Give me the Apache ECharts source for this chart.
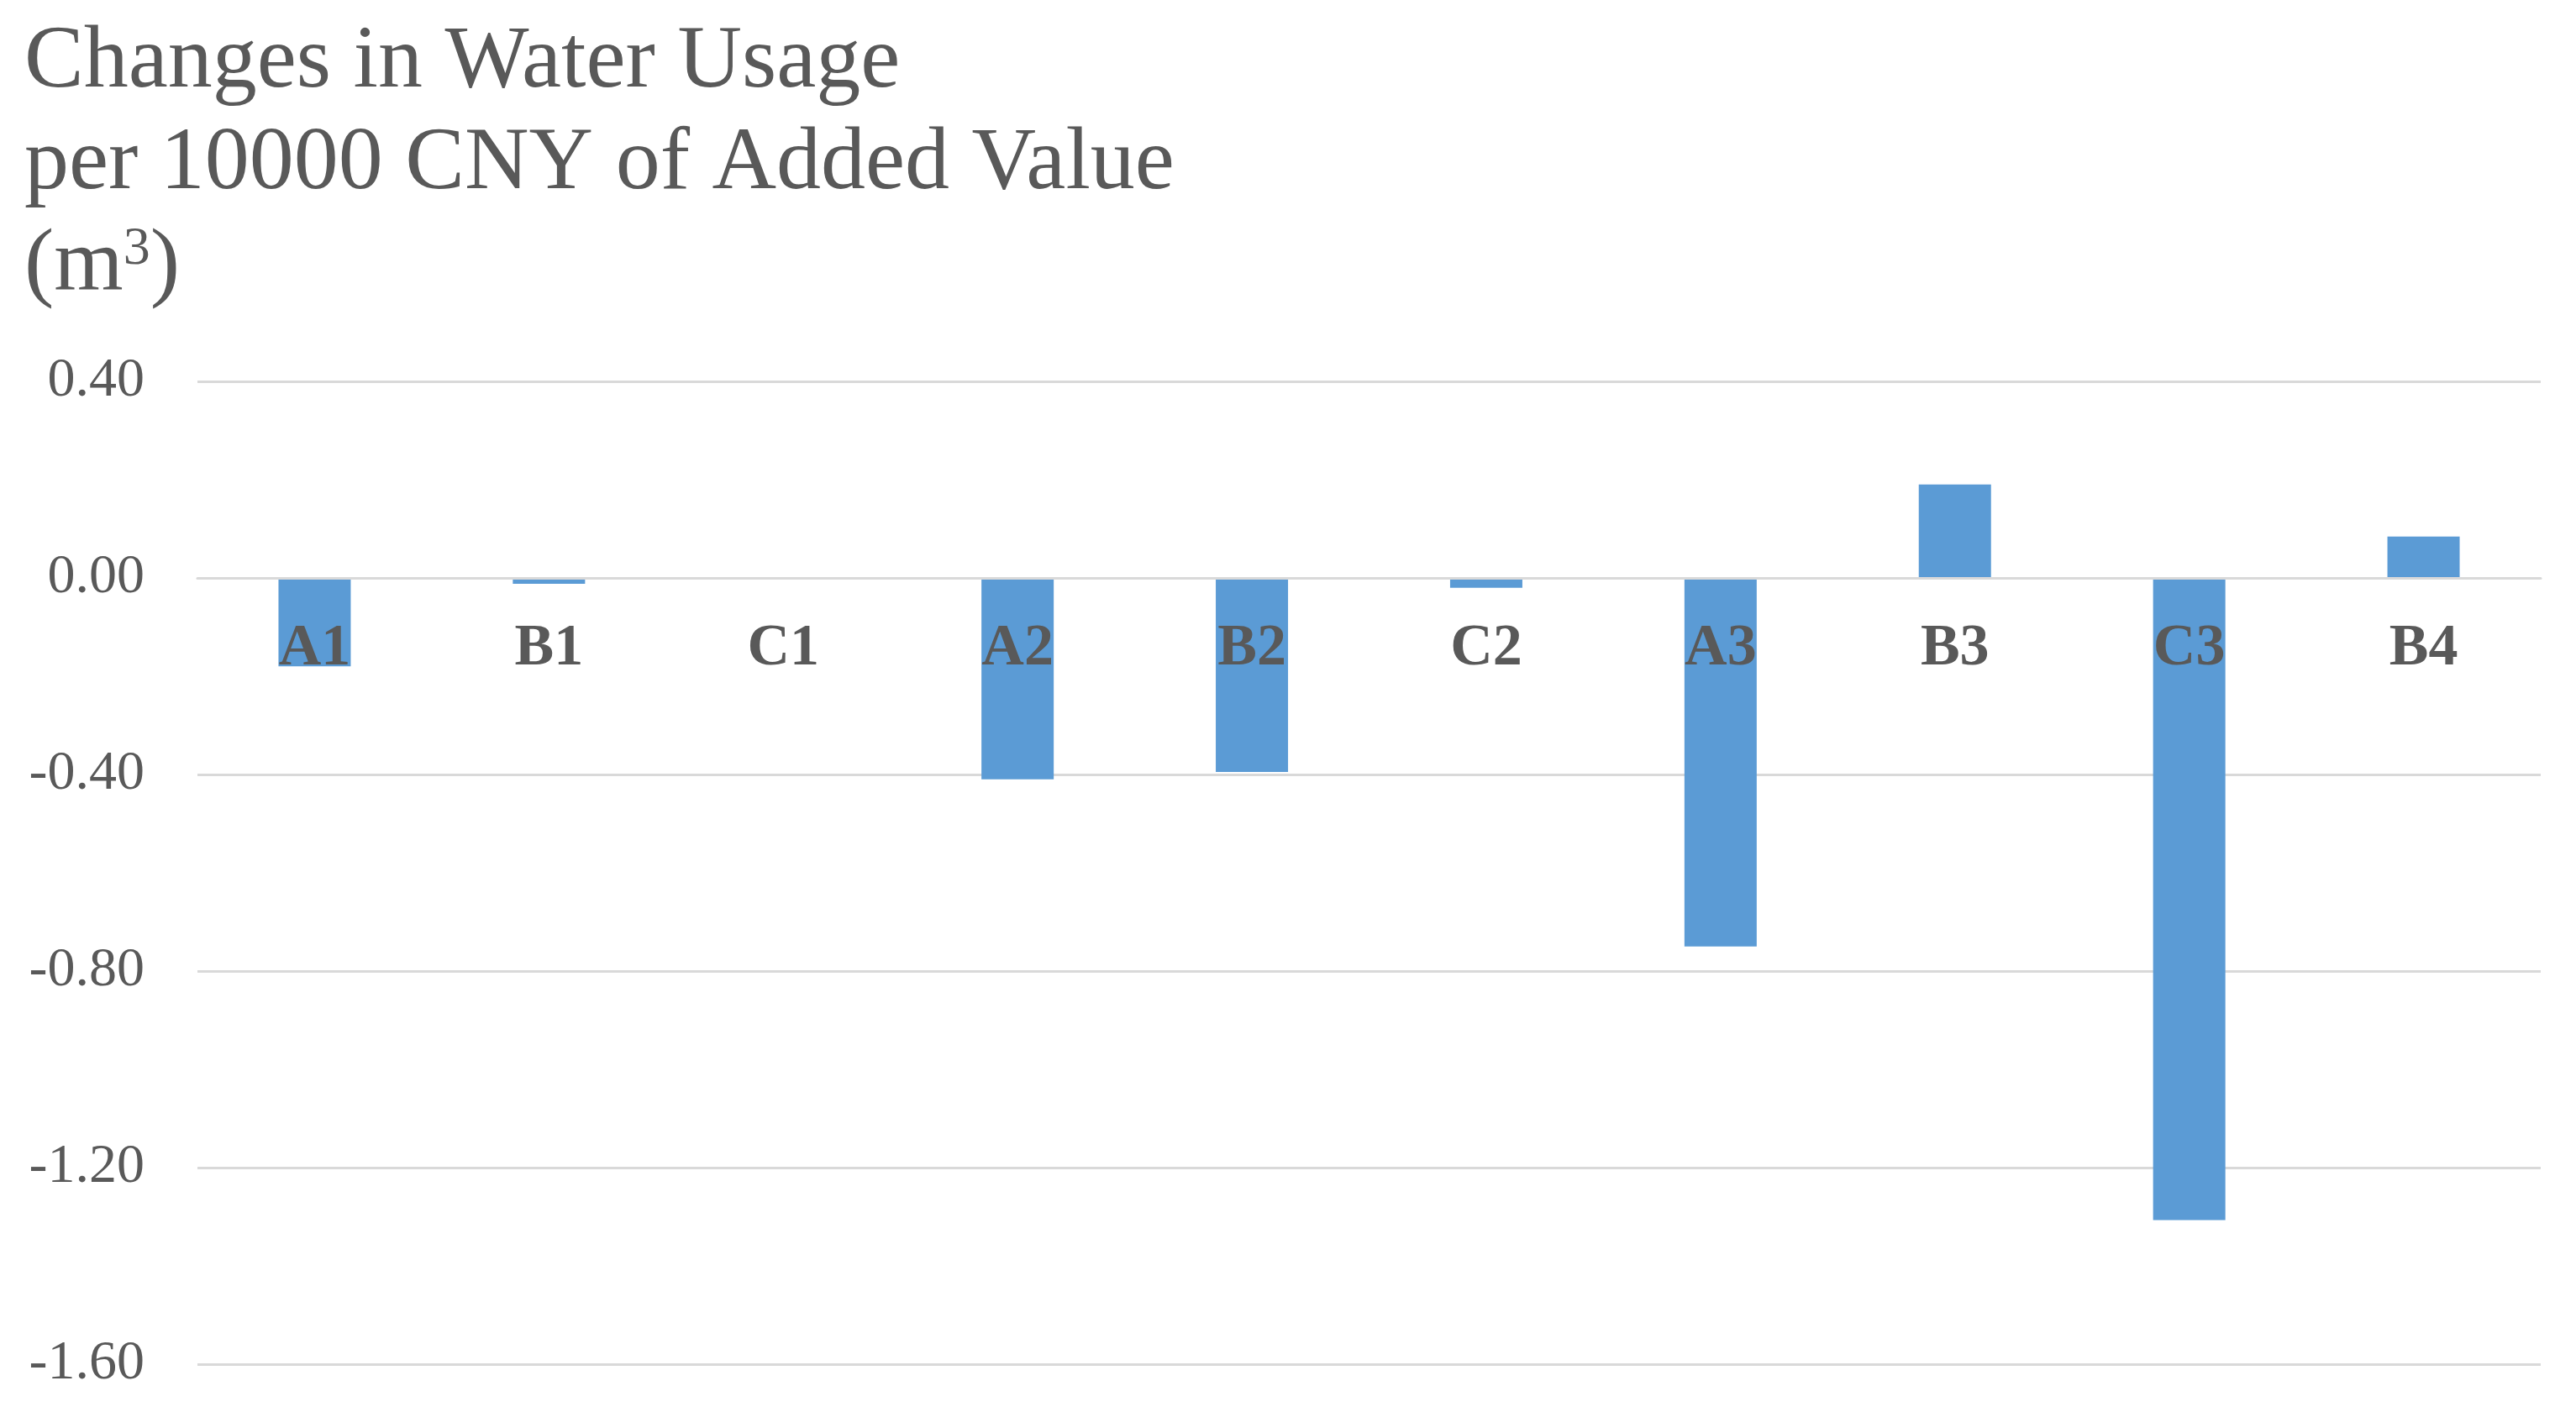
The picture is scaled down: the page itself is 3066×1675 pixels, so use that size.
<!DOCTYPE html>
<html>
<head>
<meta charset="utf-8">
<script src="https://cdn.jsdelivr.net/npm/echarts@6/dist/echarts.min.js"></script>
<style>
html,body{margin:0;padding:0;background:#fff;}
#chart{width:3066px;height:1675px;}
</style>
</head>
<body>
<div id="chart"></div>
<script>
const titleLines = ['Changes in Water Usage', 'per 10000 CNY of Added Value', '(m{sup|3})'];
const categories = ['A1', 'B1', 'C1', 'A2', 'B2', 'C2', 'A3', 'B3', 'C3', 'B4'];
const values = [-0.18, -0.012, 0, -0.41, -0.395, -0.02, -0.75, 0.19, -1.307, 0.084];
const yTicks = { min: -1.6, max: 0.4, interval: 0.4 };

const gridBox = { left: 235, right: 42, top: 454, bottom: 51 };
const plotHeight = 1675 - gridBox.top - gridBox.bottom;
// move the category axis from the bottom edge up to the zero line
const zeroOffset = -plotHeight * (0 - yTicks.min) / (yTicks.max - yTicks.min);

const chart = echarts.init(document.getElementById('chart'));
const serif = '"Liberation Serif", "Times New Roman", serif';
chart.setOption({
  backgroundColor: '#ffffff',
  animation: false,
  title: {
    text: titleLines.join('\n'),
    left: 24,
    top: 10,
    textStyle: {
      fontFamily: serif,
      fontSize: 106,
      fontWeight: 'normal',
      color: '#595959',
      lineHeight: 121,
      rich: {
        sup: {
          fontFamily: serif,
          fontSize: 64,
          color: '#595959',
          verticalAlign: 'top',
          lineHeight: 121,
          padding: [8, 0, 0, 0]
        }
      }
    }
  },
  grid: Object.assign({ containLabel: false, outerBoundsMode: 'none' }, gridBox),
  xAxis: {
    type: 'category',
    data: categories,
    z: 10,
    position: 'bottom',
    offset: zeroOffset,
    axisLine: { show: true, onZero: false, lineStyle: { color: '#d9d9d9', width: 3 } },
    axisTick: { show: false },
    axisLabel: {
      fontFamily: serif,
      fontSize: 70,
      fontWeight: 'bold',
      color: '#595959',
      margin: 50
    }
  },
  yAxis: {
    type: 'value',
    min: yTicks.min,
    max: yTicks.max,
    interval: yTicks.interval,
    axisLine: { show: false },
    axisTick: { show: false },
    splitLine: { lineStyle: { color: '#d9d9d9', width: 3 } },
    axisLabel: {
      fontFamily: serif,
      fontSize: 66,
      color: '#595959',
      margin: 63,
      formatter: v => v.toFixed(2)
    }
  },
  series: [{
    type: 'bar',
    data: values,
    barWidth: 86,
    itemStyle: { color: '#5B9BD5' }
  }]
});
</script>
</body>
</html>
